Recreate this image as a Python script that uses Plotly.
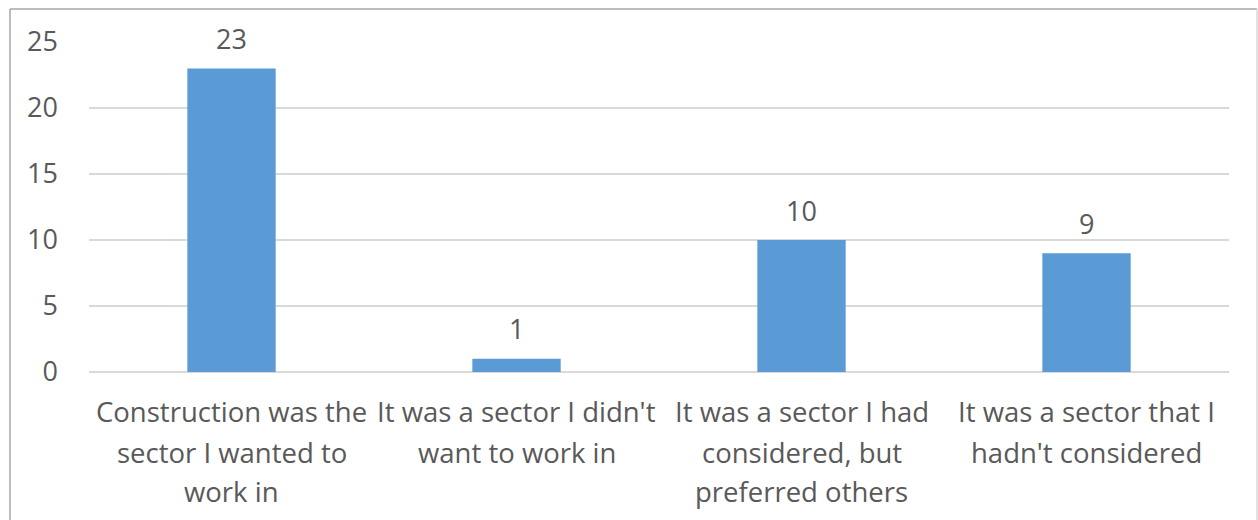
import plotly.graph_objects as go

categories = [
    "Construction was the sector I wanted to work in",
    "It was a sector I didn't want to work in",
    "It was a sector I had considered, but preferred others",
    "It was a sector that I hadn't considered",
]
label_lines = [
    ["Construction was the", "sector I wanted to", "work in"],
    ["It was a sector I didn't", "want to work in"],
    ["It was a sector I had", "considered, but", "preferred others"],
    ["It was a sector that I", "hadn't considered"],
]
values = [23, 1, 10, 9]
y_ticks = [0, 5, 10, 15, 20, 25]

W, H = 1258, 520
L, R, T, B = 89, 29, 42, 148
plot_w = W - L - R
plot_h = H - T - B

FONT = "Open Sans"
TEXT = "#595959"

fig = go.Figure(
    go.Bar(
        x=categories,
        y=values,
        marker=dict(color="#5B9BD5", line=dict(width=0)),
        width=0.31,
        hoverinfo="skip",
    )
)

annotations = []
# value labels above each bar
for c, v in zip(categories, values):
    annotations.append(
        dict(x=c, xref="x", y=v, yref="y", text=str(v), showarrow=False,
             font=dict(family=FONT, size=27, color=TEXT),
             xanchor="center", yanchor="middle", yshift=30)
    )

# category labels, one annotation per line for wider line spacing
for i, lines in enumerate(label_lines):
    for j, line in enumerate(lines):
        annotations.append(
            dict(
                x=categories[i], xref="x",
                y=1 - (412 + 40 * j - T) / plot_h, yref="paper",
                text=line, showarrow=False,
                font=dict(family=FONT, size=27.5, color=TEXT),
                xanchor="center", yanchor="middle",
            )
        )

# outer chart border
px = lambda v: (v - L) / plot_w
py = lambda v: 1 - (v - T) / plot_h
shapes = [
    dict(type="line", xref="paper", yref="paper", x0=px(10), x1=px(1257), y0=py(9), y1=py(9),
         line=dict(color="#a6a6a6", width=1.5)),
    dict(type="line", xref="paper", yref="paper", x0=px(10), x1=px(10), y0=py(9), y1=py(521),
         line=dict(color="#a6a6a6", width=1.5)),
    dict(type="line", xref="paper", yref="paper", x0=px(1257), x1=px(1257), y0=py(9), y1=py(521),
         line=dict(color="#d9d9d9", width=1.5)),
]

fig.update_layout(
    width=W, height=H,
    margin=dict(l=L, r=R, t=T, b=B),
    paper_bgcolor="white", plot_bgcolor="white",
    showlegend=False,
    xaxis=dict(showticklabels=False, showgrid=False, zeroline=False, showline=False, ticks=""),
    yaxis=dict(
        range=[0, 25], tickvals=y_ticks, showgrid=True, gridcolor="#d9d9d9", gridwidth=1.5,
        zeroline=True, zerolinecolor="#d9d9d9", zerolinewidth=1.5,
        showline=False, ticks="", ticklabelstandoff=30,
        tickfont=dict(family=FONT, size=27, color=TEXT),
    ),
    annotations=annotations,
    shapes=shapes,
)

fig.write_html("out.html")
